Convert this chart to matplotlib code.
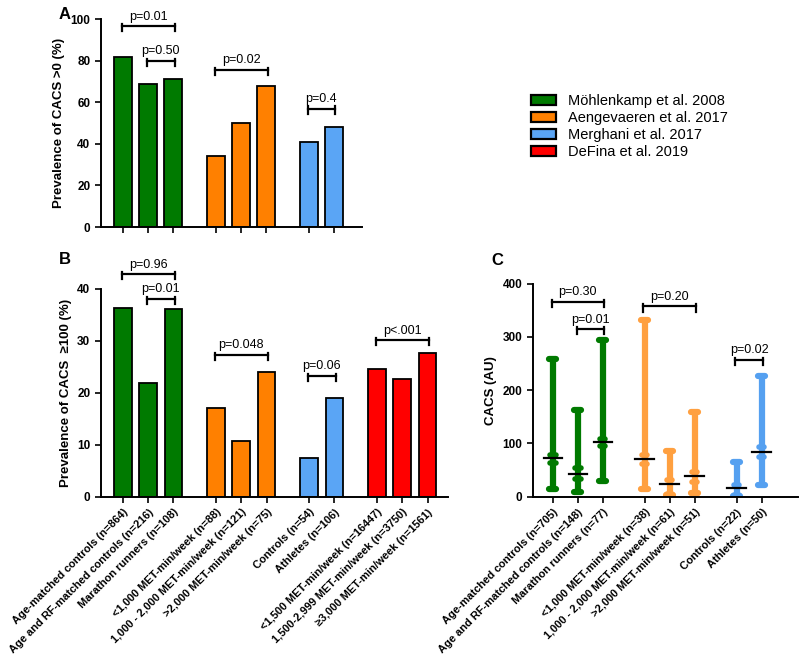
import matplotlib
matplotlib.use('Agg')
import matplotlib.pyplot as plt
import numpy as np
from matplotlib.patches import Patch

plt.rcParams['font.family'] = ['Liberation Sans', 'DejaVu Sans']

# colours per study
green = '#007A00'
orange = '#FF8000'
blue = '#5AA5F5'
red = '#FF0000'
orange_c = '#FFA040'
blue_c = '#55A0F0'

study_names = ['Möhlenkamp et al. 2008', 'Aengevaeren et al. 2017',
               'Merghani et al. 2017', 'DeFina et al. 2019']

# Panel A: prevalence CACS > 0 (%)
a_groups = [3, 3, 2]
a_values = [82, 69, 71, 34, 50, 68, 41, 48]
a_pvals = ['p=0.01', 'p=0.50', 'p=0.02', 'p=0.4']
a_pspans = [(0, 2), (1, 2), (3, 5), (6, 7)]
a_pheights = [96.5, 80, 75.5, 57]

# Panel B: prevalence CACS >= 100 (%)
b_groups = [3, 3, 2, 3]
b_values = [36.3, 21.9, 36.1, 17.0, 10.8, 24.0, 7.4, 18.9, 24.5, 22.6, 27.7]
b_labels = ['Age-matched controls (n=864)', 'Age and RF-matched controls (n=216)',
            'Marathon runners (n=108)', '<1,000 MET-min/week (n=88)',
            '1,000 - 2,000 MET-min/week (n=121)', '>2,000 MET-min/week (n=75)',
            'Controls (n=54)', 'Athletes (n=106)', '<1,500 MET-min/week (n=16447)',
            '1,500-2,999 MET-min/week (n=3750)', '≥3,000 MET-min/week (n=1561)']
b_pvals = ['p=0.96', 'p=0.01', 'p=0.048', 'p=0.06', 'p<.001']
b_pspans = [(0, 2), (1, 2), (3, 5), (6, 7), (8, 10)]
b_pheights = [42.8, 38.0, 27.3, 23.3, 30.1]

# Panel C: CACS (AU) median, quartiles and range
c_groups = [3, 3, 2]
c_min = [14, 9, 30, 14, 4, 7, 2, 22]
c_q1 = [64, 34, 95, 62, 5, 28, 3, 75]
c_median = [72, 42, 103, 70, 24, 39, 16, 84]
c_q3 = [78, 53, 109, 78, 31, 47, 22, 94]
c_max = [258, 163, 294, 332, 86, 159, 66, 227]
c_labels = ['Age-matched controls (n=705)', 'Age and RF-matched controls (n=148)',
            'Marathon runners (n=77)', '<1,000 MET-min/week (n=38)',
            '1,000 - 2,000 MET-min/week (n=61)', '>2,000 MET-min/week (n=51)',
            'Controls (n=22)', 'Athletes (n=50)']
c_pvals = ['p=0.30', 'p=0.01', 'p=0.20', 'p=0.02']
c_pspans = [(0, 2), (1, 2), (3, 5), (6, 7)]
c_pheights = [365, 314, 357, 256]


def positions(groups, gap=0.68):
    pos = []
    start = 0.0
    for n in groups:
        pos.extend(start + np.arange(n))
        start += n + gap
    return np.array(pos)


def colour_list(groups, cols):
    out = []
    for n, c in zip(groups, cols):
        out += [c] * n
    return out


def style_axis(ax):
    for s in ['top', 'right']:
        ax.spines[s].set_visible(False)
    for s in ['left', 'bottom']:
        ax.spines[s].set_linewidth(1.4)
    ax.tick_params(axis='both', direction='out', length=4, width=1.2)
    ax.tick_params(axis='y', labelsize=8.5)
    for lab in ax.get_yticklabels():
        lab.set_fontweight('bold')


def bracket(ax, x, spans, heights, texts, ymax):
    for (i, j), h, t in zip(spans, heights, texts):
        x1, x2 = x[i] - 0.05, x[j] + 0.05
        ax.plot([x1, x2], [h, h], color='black', lw=1.6, clip_on=False)
        for xx in (x1, x2):
            ax.plot([xx, xx], [h - 0.024 * ymax, h + 0.01 * ymax], color='black', lw=1.6, clip_on=False)
        ax.text((x1 + x2) / 2, h + 0.018 * ymax, t, ha='center', va='bottom', fontsize=9, clip_on=False)


fig = plt.figure(figsize=(8, 6.6), dpi=100)

# Panel A
axA = fig.add_axes([0.126, 0.656, 0.326, 0.315])
xa = positions(a_groups)
axA.bar(xa, a_values, width=0.7, color=colour_list(a_groups, [green, orange, blue]),
        edgecolor='black', linewidth=1.3)
axA.set_xlim(-0.87, 9.45)
axA.set_ylim(0, 100)
axA.set_yticks([0, 20, 40, 60, 80, 100])
axA.set_xticks(xa)
axA.set_xticklabels([])
axA.set_ylabel('Prevalence of CACS >0 (%)', fontsize=9.5, fontweight='bold')
style_axis(axA)
bracket(axA, xa, a_pspans, a_pheights, a_pvals, 100)

# Panel B
axB = fig.add_axes([0.126, 0.2474, 0.434, 0.315])
xb = positions(b_groups)
axB.bar(xb, b_values, width=0.7, color=colour_list(b_groups, [green, orange, blue, red]),
        edgecolor='black', linewidth=1.3)
axB.set_xlim(-0.87, 12.85)
axB.set_ylim(0, 40)
axB.set_yticks([0, 10, 20, 30, 40])
axB.set_xticks(xb)
axB.set_xticklabels(b_labels, rotation=45, ha='right', rotation_mode='anchor',
                    fontsize=7.9, fontweight='bold')
axB.set_ylabel('Prevalence of CACS  ≥100 (%)', fontsize=9.5, fontweight='bold')
style_axis(axB)
bracket(axB, xb, b_pspans, b_pheights, b_pvals, 40)

# Panel C
axC = fig.add_axes([0.666, 0.2474, 0.331, 0.323])
xc = positions(c_groups)
c_cols = colour_list(c_groups, [green, orange_c, blue_c])
for i, x in enumerate(xc):
    col = c_cols[i]
    axC.plot([x, x], [c_min[i], c_max[i]], color=col, lw=4.5, solid_capstyle='butt')
    for v, hw, w in [(c_min[i], 0.14, 4.5), (c_max[i], 0.14, 4.5), (c_q1[i], 0.11, 4), (c_q3[i], 0.11, 4)]:
        axC.plot([x - hw, x + hw], [v, v], color=col, lw=w, solid_capstyle='round')
    axC.plot([x - 0.37, x + 0.37], [c_median[i], c_median[i]], color='black', lw=1.6)
axC.set_xlim(-0.8, 9.8)
axC.set_ylim(0, 400)
axC.set_yticks([0, 100, 200, 300, 400])
axC.set_xticks(xc)
axC.set_xticklabels(c_labels, rotation=45, ha='right', rotation_mode='anchor',
                    fontsize=7.9, fontweight='bold')
axC.set_ylabel('CACS (AU)', fontsize=9.5, fontweight='bold')
style_axis(axC)
bracket(axC, xc, c_pspans, c_pheights, c_pvals, 400)

# panel letters
fig.text(0.073, 0.99, 'A', fontsize=12, fontweight='bold', va='top')
fig.text(0.073, 0.618, 'B', fontsize=12, fontweight='bold', va='top')
fig.text(0.614, 0.616, 'C', fontsize=12, fontweight='bold', va='top')

# legend
handles = [Patch(facecolor=c, edgecolor='black', linewidth=1.6) for c in [green, orange, blue, red]]
fig.legend(handles, study_names, loc='upper left', bbox_to_anchor=(0.664, 0.857),
           frameon=False, fontsize=10.5, handlelength=1.7, handleheight=0.65,
           handletextpad=0.8, labelspacing=0.2, borderpad=0, borderaxespad=0)

fig.savefig('out.png', dpi=100)
